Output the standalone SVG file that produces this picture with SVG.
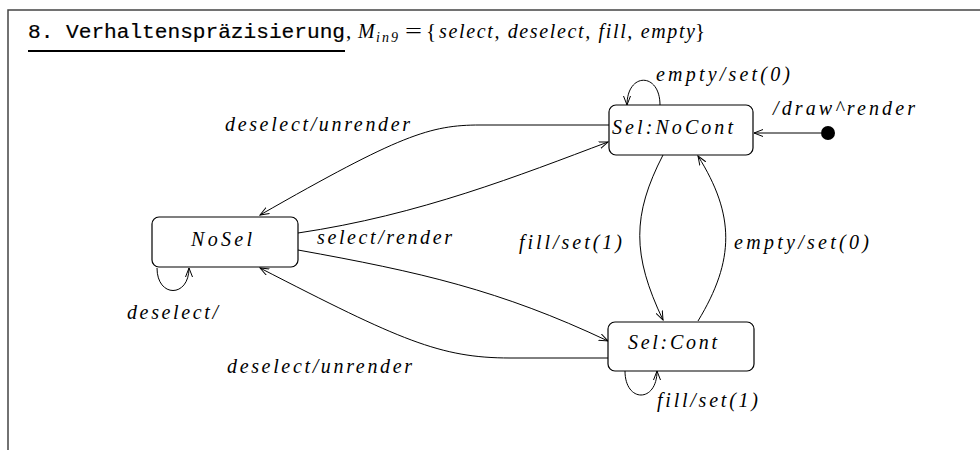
<svg xmlns="http://www.w3.org/2000/svg" width="980" height="450" viewBox="0 0 980 450">
<defs>
<marker id="arr" markerWidth="10" markerHeight="8" refX="9" refY="4" orient="auto" markerUnits="userSpaceOnUse">
<path d="M0,0.5 L9,4 L0,7.5" fill="none" stroke="#000" stroke-width="1"/>
</marker>
<style>
.frame{fill:none;stroke:#444;stroke-width:1.5}
.st{fill:#fff;stroke:#000;stroke-width:1.2}
.edge{fill:none;stroke:#000;stroke-width:1;marker-end:url(#arr)}
.lbl{font-family:"Liberation Serif","DejaVu Serif",serif;font-style:italic;font-size:20px;fill:#000}
.tt{font-family:"Liberation Mono","DejaVu Sans Mono",monospace;font-size:20px;fill:#000;stroke:#000;stroke-width:0.2}
.sub{font-family:"Liberation Serif","DejaVu Serif",serif;font-style:italic;font-size:14px;fill:#000}
.rm{font-family:"Liberation Serif","DejaVu Serif",serif;font-size:21px;fill:#000}
</style>
</defs>
<rect width="980" height="450" fill="#fff"/>
<path class="frame" d="M8,450 L8,10 L980,10"/>
<g id="title">
<text class="tt" x="28" y="38" textLength="317" lengthAdjust="spacingAndGlyphs">8. Verhaltenspräzisierung</text>
<line x1="28" y1="51" x2="345" y2="51" stroke="#000" stroke-width="2.2"/>
<text class="rm" x="346" y="38">,</text>
<text class="lbl" x="358" y="38" font-size="21">M</text>
<text class="sub" x="376" y="42" textLength="22" lengthAdjust="spacing">in9</text>
<text class="rm" x="405" y="38" textLength="17" lengthAdjust="spacingAndGlyphs">=</text>
<text class="rm" x="426" y="38">{</text>
<text class="lbl" x="439" y="38" font-size="21" textLength="256" lengthAdjust="spacing">select, deselect, fill, empty</text>
<text class="rm" x="695" y="38">}</text>
</g>
<g id="connectors">
<path class="edge" d="M821,133 L754,133"/>
<path class="edge" d="M660,105 C660,72 627,72 627,105"/>
<path class="edge" d="M609,125 L480,125 C430,125 400,135 260,215"/>
<path class="edge" d="M298,233 C420,215 520,175 608,142"/>
<path class="edge" d="M298,250 C420,272 500,290 608,341"/>
<path class="edge" d="M608,358 L510,358 C440,358 400,340 260,268"/>
<path class="edge" d="M157,268 C157,298 189,298 189,268"/>
<path class="edge" d="M663,155 C632,215 632,255 663,320"/>
<path class="edge" d="M698,321 C735,260 735,215 698,156"/>
<path class="edge" d="M625,371 C625,403 657,403 657,371"/>
</g>
<g id="init"><circle cx="828" cy="133" r="7" fill="#000"/></g>
<g id="NoSel">
<rect class="st" x="152" y="217" width="146" height="50" rx="7"/>
<text class="lbl" x="191" y="246" textLength="61" lengthAdjust="spacing">NoSel</text>
</g>
<g id="SelNoCont">
<rect class="st" x="609" y="105" width="144" height="50" rx="7"/>
<text class="lbl" x="612" y="134" textLength="121" lengthAdjust="spacing">Sel:NoCont</text>
</g>
<g id="SelCont">
<rect class="st" x="608" y="322" width="146" height="49" rx="7"/>
<text class="lbl" x="628" y="349" textLength="89" lengthAdjust="spacing">Sel:Cont</text>
</g>
<g id="labels">
<text class="lbl" x="656" y="81" textLength="134" lengthAdjust="spacing">empty/set(0)</text>
<text class="lbl" x="773" y="115" textLength="142" lengthAdjust="spacing">/draw^render</text>
<text class="lbl" x="225" y="131" textLength="185" lengthAdjust="spacing">deselect/unrender</text>
<text class="lbl" x="317" y="244" textLength="135" lengthAdjust="spacing">select/render</text>
<text class="lbl" x="127" y="319" textLength="91" lengthAdjust="spacing">deselect/</text>
<text class="lbl" x="227" y="373" textLength="185" lengthAdjust="spacing">deselect/unrender</text>
<text class="lbl" x="519" y="249" textLength="103" lengthAdjust="spacing">fill/set(1)</text>
<text class="lbl" x="734" y="249" textLength="135" lengthAdjust="spacing">empty/set(0)</text>
<text class="lbl" x="657" y="407" textLength="101" lengthAdjust="spacing">fill/set(1)</text>
</g>
</svg>
